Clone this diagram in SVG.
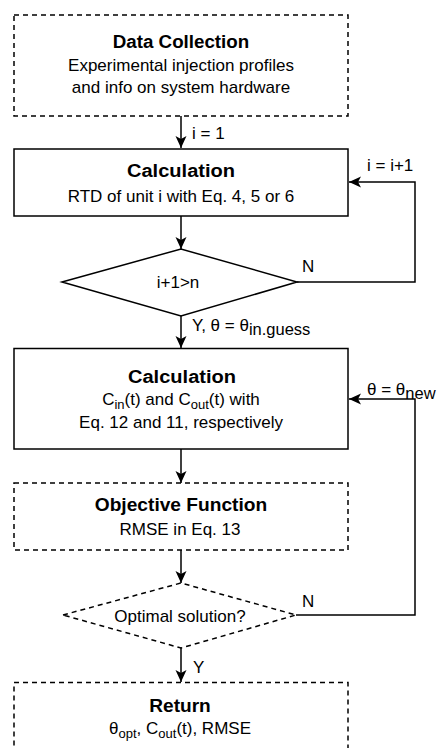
<svg xmlns="http://www.w3.org/2000/svg" width="444" height="748" viewBox="0 0 444 748">
<style>
text{font-family:"Liberation Sans",Arial,sans-serif;font-size:17px;fill:#000}
.t{font-weight:bold;font-size:18px}
.m{text-anchor:middle}
.box{fill:#fff;stroke:#000;stroke-width:1.5}
.dash{stroke-dasharray:5 4}
.edge{fill:none;stroke:#000;stroke-width:1.5}
.sub{font-size:13px}
.lsub{font-size:16.5px}
</style>
<defs>
<marker id="arr" viewBox="0 0 12 12" refX="12" refY="6" markerWidth="12" markerHeight="12" markerUnits="userSpaceOnUse" orient="auto">
<path d="M0,0.5 L12,6 L0,11.5 L3,6 z" fill="#000"/>
</marker>
</defs>
<g id="connectors">
<path class="edge" d="M181,116 V148" marker-end="url(#arr)"/>
<path class="edge" d="M181,216 V249" marker-end="url(#arr)"/>
<path class="edge" d="M297,282 H415 V182 H349" marker-end="url(#arr)"/>
<path class="edge" d="M181,316 V348" marker-end="url(#arr)"/>
<path class="edge" d="M181,449 V483" marker-end="url(#arr)"/>
<path class="edge" d="M181,550 V583" marker-end="url(#arr)"/>
<path class="edge" d="M296,615 H415 V399 H349" marker-end="url(#arr)"/>
<path class="edge" d="M181,648 V682" marker-end="url(#arr)"/>
<text x="192" y="139">i = 1</text>
<text x="367" y="171">i = i+1</text>
<text x="302" y="271.5">N</text>
<text x="192" y="331">Y, θ = θ<tspan class="lsub" dy="4">in.guess</tspan></text>
<text x="367" y="395">θ = θ<tspan class="lsub" dy="4">new</tspan></text>
<text x="302" y="606.5">N</text>
<text x="193" y="673">Y</text>
</g>
<g id="data-collection">
<rect class="box dash" x="14" y="15" width="334" height="101"/>
<text class="t m" x="181" y="47.5" textLength="136.5" lengthAdjust="spacingAndGlyphs">Data Collection</text>
<text class="m" x="181" y="71">Experimental injection profiles</text>
<text class="m" x="181" y="93">and info on system hardware</text>
</g>
<g id="calc-rtd">
<rect class="box" x="14" y="149" width="334" height="67"/>
<text class="t m" x="181" y="176.5" textLength="108" lengthAdjust="spacingAndGlyphs">Calculation</text>
<text class="m" x="181" y="201.5">RTD of unit i with Eq. 4, 5 or 6</text>
</g>
<g id="decision-n">
<polygon class="box" points="62,282 181,249 297,282 181,316"/>
<text class="m" x="178" y="288">i+1&gt;n</text>
</g>
<g id="calc-c">
<rect class="box" x="14" y="348.5" width="334" height="100.5"/>
<text class="t m" x="182" y="383" textLength="108" lengthAdjust="spacingAndGlyphs">Calculation</text>
<text class="m" x="181" y="405">C<tspan class="sub" dy="4">in</tspan><tspan dy="-4">(t) and C</tspan><tspan class="sub" dy="4">out</tspan><tspan dy="-4">(t) with</tspan></text>
<text class="m" x="181" y="428">Eq. 12 and 11, respectively</text>
</g>
<g id="objective">
<rect class="box dash" x="14" y="483" width="334" height="67"/>
<text class="t m" x="181" y="511" textLength="172.5" lengthAdjust="spacingAndGlyphs">Objective Function</text>
<text class="m" x="180" y="534.5">RMSE in Eq. 13</text>
</g>
<g id="decision-opt">
<polygon class="box dash" points="63,615 181,583 296,615 181,648"/>
<text class="m" x="180" y="621.5">Optimal solution?</text>
</g>
<g id="return">
<rect class="box dash" x="14" y="682.5" width="334" height="80"/>
<text class="t m" x="180" y="711.5" textLength="61.5" lengthAdjust="spacingAndGlyphs">Return</text>
<text class="m" x="180" y="734">θ<tspan class="sub" dy="4">opt</tspan><tspan dy="-4">, C</tspan><tspan class="sub" dy="4">out</tspan><tspan dy="-4">(t), RMSE</tspan></text>
</g>
</svg>
